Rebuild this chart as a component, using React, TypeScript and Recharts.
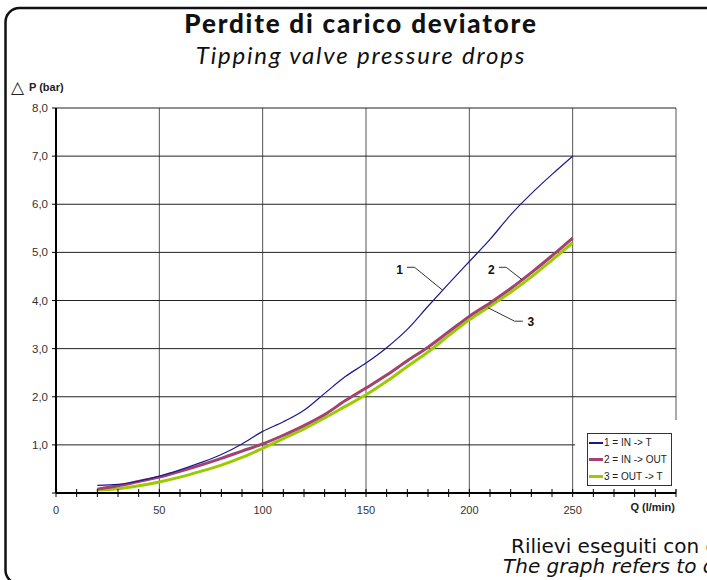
import React from 'react';
import {
  LineChart,
  Line,
  XAxis,
  YAxis,
  CartesianGrid,
  Legend,
  ReferenceLine,
  ReferenceDot,
} from 'recharts';

// flow rate Q (l/min)
const flow = [20, 30, 40, 50, 60, 70, 80, 90, 100, 110, 120, 130, 140, 150, 160, 170, 180, 190, 200, 210, 220, 230, 240, 250];
// pressure drop (bar)
const inToT = [0.16, 0.18, 0.25, 0.35, 0.48, 0.63, 0.8, 1.02, 1.28, 1.48, 1.72, 2.07, 2.42, 2.7, 3.02, 3.4, 3.88, 4.35, 4.81, 5.27, 5.78, 6.22, 6.62, 7.0];
const inToOut = [0.08, 0.15, 0.24, 0.33, 0.45, 0.58, 0.72, 0.87, 1.02, 1.2, 1.4, 1.63, 1.92, 2.18, 2.45, 2.75, 3.03, 3.35, 3.67, 3.95, 4.25, 4.58, 4.93, 5.3];
const outToT = [0.06, 0.09, 0.15, 0.23, 0.33, 0.45, 0.58, 0.74, 0.93, 1.13, 1.33, 1.56, 1.8, 2.04, 2.32, 2.63, 2.93, 3.27, 3.6, 3.88, 4.17, 4.49, 4.84, 5.2];

const seriesNames = ['1 = IN -> T', '2 = IN -> OUT', '3 = OUT -> T'];
const seriesColors = ['#1a1a8e', '#a3416f', '#9acb00'];

const xTicks = [0, 10, 20, 30, 40, 50, 60, 70, 80, 90, 100, 110, 120, 130, 140, 150, 160, 170, 180, 190, 200, 210, 220, 230, 240, 250, 260, 270, 280, 290, 300];
const xLabeled = [0, 50, 100, 150, 200, 250];
const yTicks = [0, 1, 2, 3, 4, 5, 6, 7, 8];

// numbered callouts: label point and leader line, in data units
const callouts = [
  { label: '1', at: { x: 166.3, y: 4.64 }, leader: [{ x: 169.8, y: 4.69 }, { x: 173.5, y: 4.69 }, { x: 187.2, y: 4.21 }] },
  { label: '2', at: { x: 210.6, y: 4.64 }, leader: [{ x: 214.3, y: 4.69 }, { x: 217.8, y: 4.69 }, { x: 225.6, y: 4.43 }] },
  { label: '3', at: { x: 229.8, y: 3.55 }, leader: [{ x: 225.9, y: 3.57 }, { x: 221.9, y: 3.57 }, { x: 209, y: 3.85 }] },
];

const data = flow.map((q, i) => ({ q, s1: inToT[i], s2: inToOut[i], s3: outToT[i] }));

const AXIS_FONT = '"Liberation Sans", Arial, sans-serif';
const TITLE_FONT = 'Lato, "Noto Sans", sans-serif';
const NOTE_FONT = '"DejaVu Sans", sans-serif';

function XTick({ x, y, payload }: any) {
  const v = payload.value;
  return (
    <g>
      <line x1={x} x2={x} y1={y - 4} y2={y + 4} stroke="#000" strokeWidth={1} />
      {xLabeled.includes(v) && (
        <text x={x} y={y + 21} textAnchor="middle" fontSize={11} fontFamily={AXIS_FONT} fill="#333">
          {v}
        </text>
      )}
      {v === 300 && (
        <text x={x - 1} y={y + 18} textAnchor="end" fontSize={11} fontWeight="bold" fontFamily={AXIS_FONT} fill="#222">
          Q (l/min)
        </text>
      )}
    </g>
  );
}

function YTick({ x, y, payload }: any) {
  const v = payload.value;
  return (
    <g>
      <line x1={x - 4} x2={x} y1={y} y2={y} stroke="#000" strokeWidth={1} />
      {v > 0 && (
        <text x={x - 8} y={y + 4} textAnchor="end" fontSize={11.5} fontFamily={AXIS_FONT} fill="#333">
          {v.toFixed(1).replace('.', ',')}
        </text>
      )}
    </g>
  );
}

function LegendBox() {
  return (
    <div style={{ background: '#fff', width: 102, height: 69, paddingTop: 13, paddingLeft: 12, boxSizing: 'border-box' }}>
      <div style={{ border: '1px solid #333', width: 85, height: 53, boxSizing: 'border-box', padding: '0 0 0 1px' }}>
        {seriesNames.map((name, i) => (
          <div key={name} style={{ display: 'flex', alignItems: 'center', height: 17, fontFamily: AXIS_FONT, fontSize: 10, color: '#222', whiteSpace: 'nowrap' }}>
            <span style={{ display: 'inline-block', width: 14, height: i === 0 ? 2 : 3, background: seriesColors[i], marginRight: 1 }} />
            {name}
          </div>
        ))}
      </div>
    </div>
  );
}

export default function App() {
  return (
    <div style={{ position: 'absolute', left: 0, top: 0, width: 707, height: 580, background: '#fff', overflow: 'hidden' }}>
      <svg width={707} height={580} style={{ position: 'absolute', left: 0, top: 0 }}>
        <rect x={5.5} y={8} width={760} height={576} rx={14} fill="none" stroke="#111" strokeWidth={2.5} />
        <text x={361} y={33} textAnchor="middle" fontFamily={TITLE_FONT} fontWeight={900} fontSize={26} letterSpacing={1.8} fill="#111">
          Perdite di carico deviatore
        </text>
        <text x={361} y={64} textAnchor="middle" fontFamily={TITLE_FONT} fontStyle="italic" fontSize={24} letterSpacing={1.8} fill="#111">
          Tipping valve pressure drops
        </text>
        <text x={11} y={93} fontFamily={NOTE_FONT} fontSize={17} fill="#222">△</text>
        <text x={29} y={91} fontFamily={AXIS_FONT} fontSize={11} fontWeight="bold" fill="#222">P (bar)</text>
        <text x={511} y={553} fontFamily={NOTE_FONT} fontSize={20} fill="#111">Rilievi eseguiti con olio</text>
        <text x={503} y={573} fontFamily={NOTE_FONT} fontStyle="italic" fontSize={20} fill="#111">The graph refers to oil</text>
      </svg>
      <div style={{ position: 'absolute', left: 0, top: 0 }}>
        <LineChart width={707} height={580} data={data} margin={{ top: 108, right: 31, bottom: 57, left: 0 }}>
          <CartesianGrid horizontal={false} verticalValues={[50, 100, 150, 200, 250, 300]} stroke="#555" strokeWidth={1} />
          <CartesianGrid vertical={false} horizontalValues={[1, 2, 3, 4, 5, 6, 7, 8]} stroke="#222" strokeWidth={1} />
          <XAxis
            dataKey="q"
            type="number"
            domain={[0, 300]}
            ticks={xTicks}
            interval={0}
            tickSize={0}
            tickMargin={0}
            tickLine={false}
            height={30}
            axisLine={{ stroke: '#000', strokeWidth: 2 }}
            tick={<XTick />}
          />
          <YAxis
            type="number"
            domain={[0, 8]}
            ticks={yTicks}
            interval={0}
            width={56}
            tickSize={0}
            tickMargin={0}
            tickLine={false}
            axisLine={{ stroke: '#000', strokeWidth: 2 }}
            tick={<YTick />}
          />
          <Legend
            layout="horizontal"
            verticalAlign="middle"
            align="center"
            content={<LegendBox />}
            wrapperStyle={{ position: 'absolute', left: 575, top: 420, width: 102, height: 69 }}
          />
          <Line dataKey="s3" name={seriesNames[2]} type="monotone" stroke={seriesColors[2]} strokeWidth={3} dot={false} isAnimationActive={false} />
          <Line dataKey="s2" name={seriesNames[1]} type="monotone" stroke={seriesColors[1]} strokeWidth={3} dot={false} isAnimationActive={false} />
          <Line dataKey="s1" name={seriesNames[0]} type="monotone" stroke={seriesColors[0]} strokeWidth={1.2} dot={false} isAnimationActive={false} />
          {callouts.map((c) => (
            <React.Fragment key={c.label}>
              <ReferenceLine segment={[c.leader[0], c.leader[1]]} stroke="#333" strokeWidth={1} />
              <ReferenceLine segment={[c.leader[1], c.leader[2]]} stroke="#333" strokeWidth={1} />
              <ReferenceDot
                x={c.at.x}
                y={c.at.y}
                r={0}
                stroke="none"
                fill="none"
                label={{ value: c.label, position: 'center', fontSize: 12, fontWeight: 'bold', fontFamily: AXIS_FONT, fill: '#111' }}
              />
            </React.Fragment>
          ))}
        </LineChart>
      </div>
    </div>
  );
}
